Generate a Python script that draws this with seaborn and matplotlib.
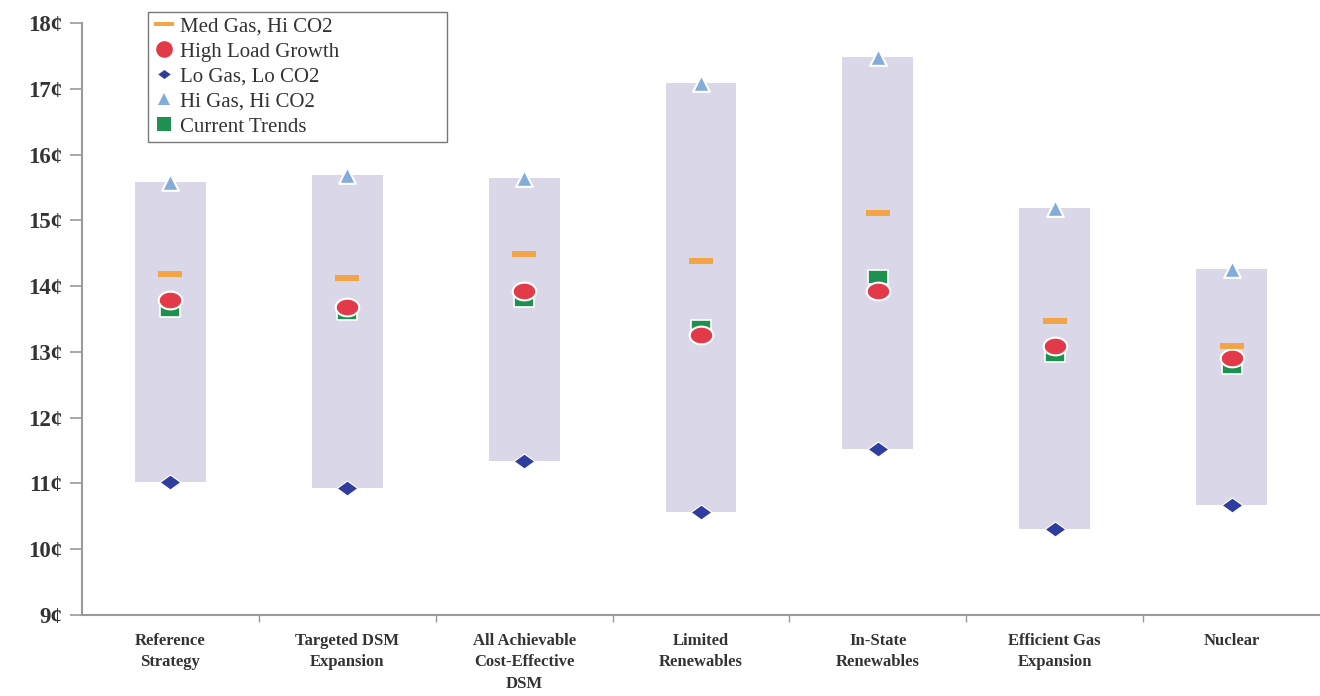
import numpy as np
import pandas as pd
import matplotlib
matplotlib.use("Agg")
import matplotlib.pyplot as plt
from matplotlib.lines import Line2D
from matplotlib.ticker import FixedLocator
import seaborn as sns

# Levelized cost range for each resource strategy (cents/kWh)
strategies = [
    "Reference\nStrategy",
    "Targeted DSM\nExpansion",
    "All Achievable\nCost-Effective\nDSM",
    "Limited\nRenewables",
    "In-State\nRenewables",
    "Efficient Gas\nExpansion",
    "Nuclear",
]
hi_gas_hi_co2 = [15.58, 15.69, 15.64, 17.09, 17.48, 15.19, 14.26]
med_gas_hi_co2 = [14.19, 14.12, 14.49, 14.38, 15.11, 13.47, 13.09]
high_load_growth = [13.79, 13.68, 13.93, 13.26, 13.93, 13.09, 12.91]
current_trends = [13.64, 13.59, 13.79, 13.38, 14.14, 12.95, 12.77]
lo_gas_lo_co2 = [11.02, 10.93, 11.34, 10.57, 11.53, 10.31, 10.67]
y_ticks = [9, 10, 11, 12, 13, 14, 15, 16, 17, 18]
y_tick_labels = [f"{v}¢" for v in y_ticks]

df = pd.DataFrame({
    "strategy": strategies,
    "hi": hi_gas_hi_co2,
    "med": med_gas_hi_co2,
    "load": high_load_growth,
    "trend": current_trends,
    "lo": lo_gas_lo_co2,
})
df["span"] = df["hi"] - df["lo"]

sns.set_style("ticks")
plt.rcParams["font.family"] = ["Liberation Serif", "DejaVu Serif"]

fig = plt.figure(figsize=(13.2, 6.96), dpi=100)
ax = fig.add_axes([82 / 1320, 81 / 696, 1238 / 1320, 592 / 696])

# marker shapes
theta = np.linspace(0, 2 * np.pi, 40)
ellipse = np.column_stack([np.cos(theta), 0.75 * np.sin(theta)])
dash = np.array([[-1, -0.22], [1, -0.22], [1, 0.22], [-1, 0.22], [-1, -0.22]])
diamond = np.array([[0, 0.72], [1, 0], [0, -0.72], [-1, 0], [0, 0.72]])
rect = np.array([[-1, -0.72], [1, -0.72], [1, 0.72], [-1, 0.72], [-1, -0.72]])

BAR = "#dad8e8"
ORANGE = "#f2a446"
RED = "#e23a48"
BLUE = "#2f3d9e"
LIGHT = "#84acd9"
GREEN = "#1e9150"

sns.barplot(data=df, x="strategy", y="span", bottom=df["lo"].to_numpy(),
            order=strategies, color=BAR, width=0.4, errorbar=None,
            linewidth=0, saturation=1, ax=ax, zorder=1)

common = dict(data=df, x="strategy", order=strategies, jitter=False, ax=ax)
sns.stripplot(y="trend", marker=rect, size=15, color=GREEN,
              edgecolor="white", linewidth=1.2, zorder=3, **common)
sns.stripplot(y="load", marker=ellipse, size=17, color=RED,
              edgecolor="white", linewidth=1.5, zorder=4, **common)
sns.stripplot(y="med", marker=dash, size=17, color=ORANGE,
              linewidth=0, zorder=5, **common)
sns.stripplot(y="lo", marker=diamond, size=15, color=BLUE,
              edgecolor="white", linewidth=0.8, zorder=5, **common)
sns.stripplot(y="hi", marker="^", size=12, color=LIGHT,
              edgecolor="white", linewidth=1.5, zorder=5, **common)

ax.set_xlim(-0.5, len(strategies) - 0.5)
ax.set_ylim(9, 18)
ax.set_yticks(y_ticks)
ax.set_yticklabels(y_tick_labels, fontsize=16.5, fontweight="bold", color="#333333")
ax.set_xticks(range(len(strategies)))
ax.set_xticklabels(strategies, fontsize=12, fontweight="bold", color="#333333",
                   linespacing=1.45, va="top")
ax.xaxis.set_minor_locator(FixedLocator(np.arange(0.5, len(strategies) - 1, 1.0)))
ax.tick_params(axis="x", which="major", length=0, pad=13)
ax.tick_params(axis="x", which="minor", length=5, width=1, color="#999999")
ax.tick_params(axis="y", length=9, width=1.2, color="#999999", pad=5)
ax.set_xlabel("")
ax.set_ylabel("")
for side in ("top", "right"):
    ax.spines[side].set_visible(False)
for side in ("left", "bottom"):
    ax.spines[side].set_color("#9a9a9a")
    ax.spines[side].set_linewidth(1.5)

handles = [
    Line2D([], [], linestyle="none", marker=dash, markersize=14, color=ORANGE,
           markeredgewidth=0),
    Line2D([], [], linestyle="none", marker="o", markersize=12, color=RED,
           markeredgewidth=0),
    Line2D([], [], linestyle="none", marker=diamond, markersize=9, color=BLUE,
           markeredgewidth=0),
    Line2D([], [], linestyle="none", marker="^", markersize=8, color=LIGHT,
           markeredgewidth=0),
    Line2D([], [], linestyle="none", marker="s", markersize=10, color=GREEN,
           markeredgewidth=0),
]
labels = ["Med Gas, Hi CO2", "High Load Growth", "Lo Gas, Lo CO2",
          "Hi Gas, Hi CO2", "Current Trends"]
leg = fig.legend(handles, labels, loc="upper left",
                 bbox_to_anchor=(148 / 1320, 1 - 12 / 696, 299 / 1320, 0.0),
                 mode="expand", borderaxespad=0, frameon=True, fancybox=False,
                 edgecolor="#555555", handlelength=1.0,
                 handletextpad=0.3, labelspacing=0.26, borderpad=0.25,
                 prop={"family": ["Liberation Serif"], "size": 15})
leg.get_frame().set_linewidth(1.0)
for t in leg.get_texts():
    t.set_color("#333333")

fig.savefig("out.png", dpi=100, facecolor="white")
